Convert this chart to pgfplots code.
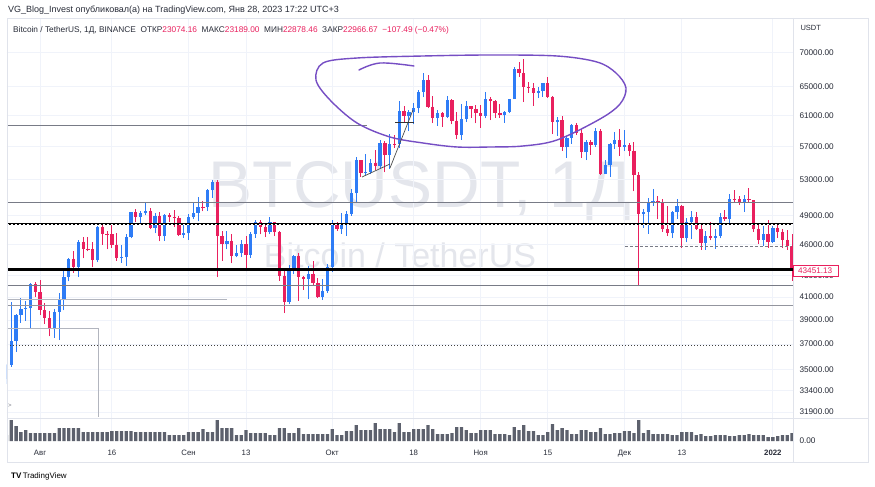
\documentclass[border=0pt]{standalone}
\usepackage{fontspec}
\setmainfont{Liberation Sans}
\usepackage{pgfplots}
\usepackage{pgfplotstable}
\pgfplotsset{compat=1.18}
\definecolor{upc}{RGB}{46,124,246}
\definecolor{dnc}{RGB}{233,32,94}
\definecolor{gridc}{RGB}{240,243,250}
\definecolor{txt}{RGB}{40,44,56}
\definecolor{lineg}{RGB}{120,123,134}
\definecolor{lightg}{RGB}{178,181,190}
\definecolor{wm}{RGB}{228,230,236}
\definecolor{purp}{RGB}{118,78,196}
\definecolor{volc}{RGB}{93,97,109}
\definecolor{framec}{RGB}{224,227,235}

% daily candles, d = day index from 25 Jul 2021
\pgfplotstableread{
d o h l c
0 34270 35400 33880 35350
1 35350 40550 35210 37280
2 37280 39540 36380 39450
3 39450 40900 38770 39980
4 39980 40640 38940 40010
5 40010 42320 38310 42240
6 42240 42410 41010 41460
7 41460 42600 39420 39850
8 39850 40460 38690 39150
9 39150 39780 37640 38210
10 38210 39970 37510 39720
11 39720 41400 37330 40870
12 40870 43390 39850 42840
13 42840 44700 42450 44610
14 44610 45310 43260 43820
15 43820 46450 42850 46290
16 46290 46720 44640 45600
17 45600 46780 45330 45560
18 45560 46220 43770 44430
19 44430 47890 44260 47830
20 47830 48140 45970 47100
21 47100 47370 45520 47050
22 47050 48050 45680 45990
23 45990 47160 44380 44700
24 44700 46000 44200 44720
25 44720 47080 43930 46760
26 46760 49380 46630 49340
27 49340 49760 48280 48870
28 48870 49500 48100 49280
29 49280 50500 49030 49520
30 49520 49860 47600 47710
31 47710 49280 47140 48970
32 48970 49370 46330 46850
33 46850 49200 46380 49070
34 49070 49310 48370 48900
35 48900 49650 47780 48770
36 48770 48910 46860 46990
37 46990 48250 46700 47130
38 47130 49130 46510 48820
39 48820 50390 48630 49260
40 49260 51050 48380 49990
41 49990 50560 49460 49920
42 49920 51900 49500 51790
43 51790 52920 50980 52690
44 52690 52940 42840 46860
45 46860 47370 44410 46070
46 46070 47400 45510 46400
47 46400 47040 44140 44850
48 44850 45990 44730 45150
49 45150 46460 44740 46060
50 46060 46880 43370 44960
51 44960 47250 44680 47090
52 47090 48490 46700 48330
53 48330 48500 47030 47760
54 47760 48170 46750 47300
55 47300 48840 47050 48300
56 48300 48370 46850 47260
57 47260 47340 42500 42960
58 42960 43640 39600 40590
59 40590 44000 40390 43580
60 43580 44980 43090 44880
61 44880 45200 40680 42810
62 42810 42970 41650 42670
63 42670 43920 40800 43160
64 43160 44350 42100 42250
65 42250 42780 40890 41030
66 41030 42690 40750 41520
67 41520 44130 41410 43790
68 43790 48500 43290 48140
69 48140 48360 47430 47630
70 47630 49300 47120 48200
71 48200 49530 46890 49220
72 49220 51890 49000 51470
73 51470 55750 50380 55320
74 55320 55330 53360 53790
75 53790 56110 53600 53950
76 53950 55490 53660 54960
77 54960 56560 54110 54660
78 54660 57840 54420 57470
79 57470 57680 53880 56010
80 56010 58530 54250 57370
81 57370 58520 56820 57350
82 57350 62930 56850 61670
83 61670 62350 60150 60880
84 60880 61720 58960 61530
85 61530 62690 59840 62010
86 62010 64490 61320 64280
87 64280 67000 63480 66000
88 66000 66640 62000 62190
89 62190 63730 60000 60690
90 60690 61750 59650 61290
91 61290 61500 59510 60850
92 60850 63710 60650 63080
93 63080 63290 59820 60330
94 60330 61500 58000 58450
95 58450 62500 57820 60590
96 60590 62980 60170 62250
97 62250 62270 60720 61880
98 61880 62400 59950 61320
99 61320 62430 59410 60950
100 60950 64270 60620 63230
101 63230 63500 60380 62930
102 62930 63120 60680 61400
103 61400 62600 60720 61010
104 61010 61560 60050 61530
105 61530 63300 61320 63280
106 63280 67790 63280 67530
107 67530 68530 66380 66940
108 66940 69000 62820 64880
109 64880 65600 64100 64770
110 64770 65460 62330 64120
111 64120 64990 63360 64380
112 64380 65550 63580 65500
113 65500 66400 63400 63580
114 63580 63620 58570 60080
115 60080 60840 58370 60350
116 60350 60970 56480 56910
117 56910 58350 55600 58120
118 58120 59840 57350 59750
119 59750 60050 58470 58720
120 58720 59270 55610 56290
121 56290 57870 55320 57570
122 57570 57800 55990 57170
123 57170 59400 57000 58960
124 58960 59230 53530 53730
125 53730 55330 53650 54720
126 54720 57450 53330 57270
127 57270 58870 56690 57810
128 57810 59180 55880 56950
129 56950 59050 56460 57180
130 57180 57380 55800 56480
131 56480 57600 51680 53600
132 53600 53860 42000 49150
133 49150 49700 47730 49400
134 49400 50900 47100 50440
135 50440 51940 50040 50590
136 50590 51200 48610 50470
137 50470 50800 47320 47550
138 47550 50100 46850 47140
139 47140 49490 46640 49390
140 49390 50800 48650 50100
141 50100 50200 45670 46700
142 46700 48700 46230 48340
143 48340 49500 46550 48860
144 48860 49440 47500 47630
145 47630 48000 45460 46130
146 46130 47360 45500 46830
147 46830 48300 46410 46680
148 46680 47540 45560 46910
149 46910 49330 46630 48880
150 48880 49570 48420 48590
151 48590 51380 48050 50840
152 50840 51860 50390 50820
153 50820 51150 50200 50430
154 50430 51280 49410 50800
155 50800 52090 50460 50700
156 50700 50700 47310 47540
157 47540 48140 46100 46470
158 46470 47900 45900 47120
159 47120 48550 45680 46220
160 46220 47950 46200 47720
161 47720 47990 46650 47290
162 47290 47570 45700 46440
163 46440 47510 45500 45830
164 45830 47070 42500 43450
}\btc

% volume, thousand BTC
\pgfplotstableread{
d v
0 36
1 126
2 90
3 54
4 66
5 48
6 48
7 48
8 48
9 48
10 48
11 78
12 78
13 78
14 78
15 78
16 54
17 54
18 54
19 54
20 54
21 54
22 60
23 60
24 60
25 60
26 60
27 54
28 54
29 54
30 54
31 54
32 54
33 54
34 36
35 36
36 36
37 36
38 54
39 54
40 54
41 72
42 54
43 54
44 126
45 78
46 78
47 78
48 36
49 36
50 66
51 48
52 48
53 48
54 48
55 36
56 36
57 78
58 78
59 48
60 48
61 78
62 42
63 42
64 42
65 42
66 42
67 42
68 72
69 36
70 36
71 60
72 60
73 96
74 66
75 66
76 66
77 108
78 72
79 72
80 72
81 54
82 108
83 54
84 54
85 72
86 72
87 72
88 96
89 72
90 42
91 42
92 42
93 48
94 84
95 84
96 66
97 48
98 48
99 66
100 66
101 66
102 42
103 42
104 42
105 36
106 84
107 66
108 96
109 60
110 60
111 36
112 36
113 54
114 102
115 66
116 78
117 66
118 42
119 42
120 66
121 66
122 54
123 54
124 78
125 42
126 42
127 48
128 48
129 60
130 60
131 48
132 126
133 48
134 66
135 42
136 42
137 42
138 42
139 36
140 36
141 54
142 54
143 54
144 36
145 42
146 30
147 30
148 36
149 36
150 36
151 30
152 30
153 36
154 36
155 42
156 36
157 36
158 36
159 24
160 24
161 30
162 36
163 36
164 48
}\vol

\begin{document}
\begin{tikzpicture}
\fill[white] (0pt,0pt) rectangle (875pt,-487pt);
% watermark
\node[text=wm, font=\fontsize{66}{72}\selectfont, anchor=base] at (420pt,-207pt) {BTCUSDT, 1Д};
\node[text=wm, font=\fontsize{34}{38}\selectfont, anchor=base] at (400pt,-267pt) {Bitcoin / TetherUS};

\begin{axis}[
  at={(7pt,-418pt)}, anchor=south west,
  scale only axis, width=786pt, height=400pt,
  xmin=0.1, xmax=164.2,
  ymode=log, ymin=31480, ymax=75520,
  axis line style={draw=none},
  xtick={7,22,38,50,68,85,99,113,129,141,160}, xticklabels={},
  ytick={31900,33400,35000,37000,39000,41000,43000,46000,49000,53000,57000,61000,65000,70000},
  yticklabels={31900.00,33400.00,35000.00,37000.00,39000.00,41000.00,43000.00,46000.00,49000.00,53000.00,57000.00,61000.00,65000.00,70000.00},
  yticklabel pos=right,
  yticklabel style={anchor=west, font=\fontsize{8.2}{9}\selectfont, text=txt, xshift=3pt},
  grid=major, major grid style={draw=gridc, line width=0.8pt},
  tick style={draw=none}, major tick length=0pt,
  clip=true,
]
\pgfplotsforeachungrouped \i in {0,...,164}{%
  \pgfplotstablegetelem{\i}{d}\of\btc\let\cd\pgfplotsretval
  \pgfplotstablegetelem{\i}{o}\of\btc\let\co\pgfplotsretval
  \pgfplotstablegetelem{\i}{h}\of\btc\let\ch\pgfplotsretval
  \pgfplotstablegetelem{\i}{l}\of\btc\let\cl\pgfplotsretval
  \pgfplotstablegetelem{\i}{c}\of\btc\let\cc\pgfplotsretval
  \ifnum\cc<\co\relax\def\ccol{dnc}\else\def\ccol{upc}\fi
  \edef\doplot{%
    \noexpand\addplot[\ccol, line width=1pt, forget plot] coordinates {(\cd,\cl) (\cd,\ch)};%
    \noexpand\addplot[\ccol, line width=3.3pt, forget plot] coordinates {(\cd,\co) (\cd,\cc)};%
  }\doplot
}
% user drawn levels
\addplot[lineg, line width=1pt] coordinates {(0.1,59634) (75.3,59634)};
\addplot[lineg, line width=1pt] coordinates {(0.1,50390) (164.2,50390)};
\addplot[black, line width=1.6pt] coordinates {(0.1,48128) (164.2,48128)};
\addplot[white, line width=0.5pt, dash pattern=on 2pt off 2pt] coordinates {(0.1,48128) (164.2,48128)};
\addplot[lineg, line width=0.8pt, dash pattern=on 3pt off 2pt] coordinates {(129.1,45767) (163.6,45767)};
\addplot[black, line width=2.5pt] coordinates {(0.1,43568) (164.2,43568)};
\addplot[lineg, line width=1pt] coordinates {(0.1,42052) (164.2,42052)};
\addplot[lightg, line width=1pt] coordinates {(0.1,40784) (46.0,40784)};
\addplot[lineg!80, line width=1pt] coordinates {(0.1,40288) (164.2,40288)};
\addplot[lightg, line width=1pt] coordinates {(0.1,38253) (19.1,38253) (19.1,31550)};
\addplot[black!75, line width=0.9pt, dash pattern=on 1pt off 2pt] coordinates {(0.1,36881) (164.2,36881)};
\end{axis}

\begin{axis}[
  at={(7pt,-441pt)}, anchor=south west,
  scale only axis, width=786pt, height=23pt,
  xmin=0.1, xmax=164.2, ymin=0, ymax=138,
  axis line style={draw=none},
  xtick={7,22,38,50,68,85,99,113,129,141,160},
  xticklabels={Авг,16,Сен,13,Окт,18,Ноя,15,Дек,13,\textbf{2022}},
  xticklabel style={anchor=base, yshift=-14pt, font=\fontsize{7.8}{8}\selectfont, text=txt},
  ytick={0}, yticklabels={0.00}, yticklabel pos=right,
  yticklabel style={anchor=west, font=\fontsize{8.2}{9}\selectfont, text=txt, xshift=3pt},
  xmajorgrids, major grid style={draw=gridc, line width=0.8pt},
  tick style={draw=none}, major tick length=0pt,
]
\addplot[ybar, bar width=3.3pt, fill=volc, draw=none] table[x=d, y=v] {\vol};
\end{axis}

\begin{scope}[x=1pt, y=-1pt]
% hand drawn annotations
\draw[purp, line width=1.4pt, line cap=round] plot[smooth, tension=0.6] coordinates {(359,70) (380,63) (414,66)};
\draw[purp, line width=1.4pt] plot[smooth cycle, tension=0.55] coordinates {(323,63) (357,58) (423,56) (490,55) (557,56) (597,62) (616,73) (626,88) (620,104) (600,119) (557,140) (523,146) (490,147) (457,147) (423,143) (390,137) (357,123) (330,100) (316,80)};
\draw[black!70, line width=0.7pt] (362,177) -- (390,164);
\draw[black!70, line width=0.7pt] (390,168) -- (413,110);
\draw[black!80, line width=0.9pt] (395,122) -- (414,122);
% frame
\draw[framec, line width=0.8pt] (7,18) rectangle (868,462);
\draw[framec, line width=0.8pt] (7,418) -- (868,418);
\draw[framec, line width=0.8pt] (793,18) -- (793,462);
% price label
\node[draw=dnc, fill=white, text=dnc, font=\fontsize{8.2}{9}\selectfont, inner sep=1.2pt, minimum height=10.5pt, minimum width=45pt, anchor=west] at (792.5,270.5) {43451.13};
\node[anchor=base west, text=txt, font=\fontsize{7.5}{8}\selectfont] at (797,31) {USDT};
\node[text=lineg, font=\fontsize{6}{6}\selectfont] at (10,406) {>};
% header
\node[anchor=base west, text=txt, font=\fontsize{9}{10}\selectfont, inner sep=0pt] at (8,13) {VG\_Blog\_Invest опубликовал(а) на TradingView.com, Янв 28, 2023 17:22 UTC+3};
\node[anchor=base west, text=txt, font=\fontsize{8.3}{10}\selectfont, inner sep=0pt] at (13,33) {Bitcoin / TetherUS, 1Д, BINANCE\ \ ОТКР\textcolor{dnc}{23074.16}\ \ МАКС\textcolor{dnc}{23189.00}\ \ МИН\textcolor{dnc}{22878.46}\ \ ЗАКР\textcolor{dnc}{22966.67}\ \ \textcolor{dnc}{−107.49 (−0.47\%)}};
\node[anchor=base west, text=black, font=\fontsize{8}{9}\selectfont, inner sep=0pt] at (11,478) {\textbf{TV}\,TradingView};
\end{scope}
\pgfresetboundingbox
\path[use as bounding box] (0pt,0pt) rectangle (875pt,-487pt);
\end{tikzpicture}
\end{document}
